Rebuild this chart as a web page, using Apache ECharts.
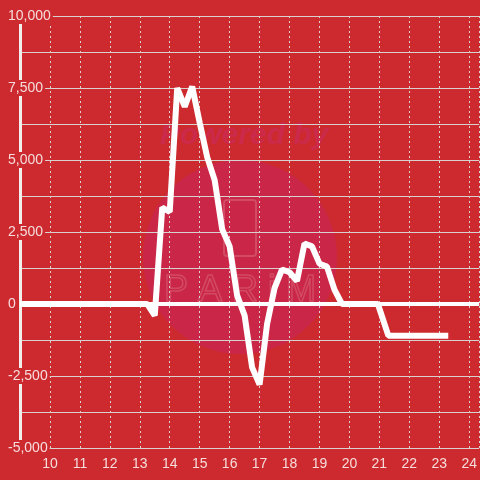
<!DOCTYPE html>
<html>
<head>
<meta charset="utf-8">
<script src="https://cdn.jsdelivr.net/npm/echarts@6/dist/echarts.min.js"></script>
<style>
  html, body { margin: 0; padding: 0; background: #cc2a2f; }
  #box { width: 480px; height: 480px; }
</style>
</head>
<body>
<div id="box"></div>
<script>
var xValues = [9, 10, 13.25, 13.5, 13.75, 14, 14.25, 14.5, 14.75, 15, 15.25, 15.5, 15.75, 16, 16.25, 16.5, 16.75, 17,
  17.25, 17.5, 17.75, 18, 18.25, 18.5, 18.75, 19, 19.25, 19.5, 19.75, 20, 20.5, 20.95, 21.3, 22, 23, 23.3];
var yValues = [0, 0, 0, -400, 3350, 3200, 7500, 6850, 7550, 6300, 5100, 4300, 2600, 2000, 300, -400, -2200, -2800,
  -700, 550, 1200, 1100, 800, 2100, 2000, 1400, 1300, 500, 0, 0, 0, 0, -1100, -1100, -1100, -1100];
var yTicks = [-5000, -2500, 0, 2500, 5000, 7500, 10000];

var chart = echarts.init(document.getElementById('box'));

var points = xValues.map(function (x, i) {
  return [x, yValues[i]];
});

var labelColor = '#f6dcdc';
var gridColor = '#d9d0d0';

var option = {
  backgroundColor: '#cc2a2f',
  animation: false,
  // watermark behind the plot
  graphic: [
    {
      type: 'circle', z: -1, silent: true,
      shape: { cx: 240, cy: 257, r: 97 },
      style: { fill: '#ca2748' }
    },
    {
      type: 'text', z: -1, silent: true,
      x: 244, y: 136,
      style: {
        text: 'Powered by', fill: '#cc2a4a', align: 'center', verticalAlign: 'middle',
        font: 'italic bold 30px "Liberation Sans", sans-serif'
      }
    },
    {
      type: 'rect', z: -1, silent: true,
      shape: { x: 224, y: 200, width: 32, height: 56, r: 3 },
      style: { fill: 'none', stroke: '#d24a64', lineWidth: 2 }
    },
    {
      type: 'text', z: -1, silent: true,
      x: 240, y: 291,
      style: {
        text: 'P A R i M', fill: 'none', stroke: '#d24a64', lineWidth: 1.5, align: 'center', verticalAlign: 'middle',
        font: '36px "Liberation Sans", sans-serif'
      }
    }
  ],
  grid: {
    left: 20,
    right: 0,
    top: 16,
    bottom: 32
  },
  xAxis: {
    type: 'value',
    min: 9,
    max: 24.333,
    interval: 1,
    axisLine: { show: false },
    axisTick: { show: false },
    axisLabel: {
      color: labelColor,
      fontSize: 14,
      fontFamily: 'Liberation Sans',
      margin: 9,
      showMaxLabel: false,
      formatter: function (v) {
        return v === 9 ? '' : String(v);
      }
    },
    splitLine: {
      show: true,
      lineStyle: { color: gridColor, width: 1, type: [2, 3] }
    }
  },
  yAxis: {
    type: 'value',
    min: yTicks[0],
    max: yTicks[yTicks.length - 1],
    interval: 2500,
    axisLine: {
      show: true,
      onZero: false,
      lineStyle: { color: '#f2eeee', width: 3 }
    },
    axisTick: { show: false },
    minorTick: { show: false, splitNumber: 2 },
    minorSplitLine: {
      show: true,
      lineStyle: { color: gridColor, width: 1 }
    },
    splitLine: {
      show: true,
      lineStyle: { color: gridColor, width: 1 }
    },
    axisLabel: {
      color: labelColor,
      fontSize: 14,
      fontFamily: 'Liberation Sans',
      align: 'left',
      margin: 13,
      backgroundColor: '#cc2a2f',
      padding: [1, 2, 1, 1],
      formatter: function (v) {
        return v.toLocaleString('en-US');
      }
    }
  },
  series: [
    {
      type: 'line',
      data: points,
      showSymbol: false,
      lineStyle: { color: '#ffffff', width: 6 },
      itemStyle: { color: '#ffffff' },
      markLine: {
        silent: true,
        symbol: 'none',
        label: { show: false },
        lineStyle: { color: '#ffffff', width: 4, type: 'solid' },
        data: [{ yAxis: 0 }]
      }
    }
  ]
};

chart.setOption(option);
</script>
</body>
</html>
